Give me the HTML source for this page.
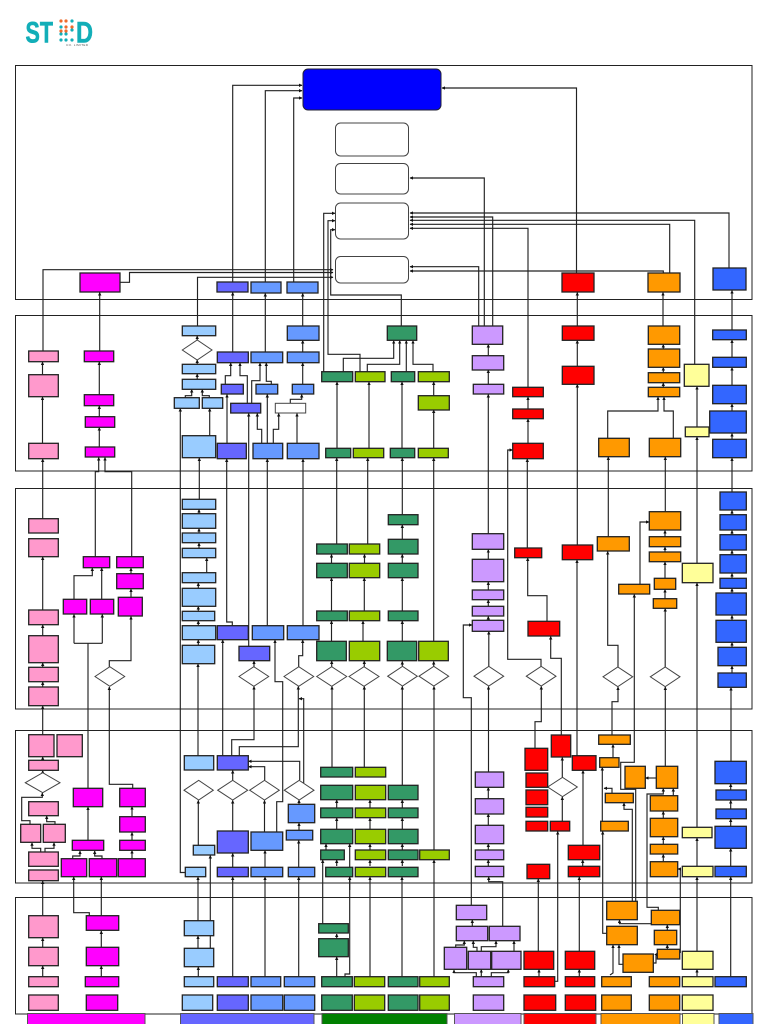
<!DOCTYPE html>
<html><head><meta charset="utf-8"><title>Flow diagram</title>
<style>html,body{margin:0;padding:0;background:#fff}svg{display:block}</style></head>
<body>
<svg xmlns="http://www.w3.org/2000/svg" width="768" height="1024" viewBox="0 0 768 1024">
<defs><marker id="a" markerUnits="userSpaceOnUse" markerWidth="3.4" markerHeight="3.4" refX="3" refY="1.7" orient="auto"><path d="M0 0L3.4 1.7L0 3.4z" fill="#111"/></marker></defs>
<rect width="768" height="1024" fill="#fff"/>
<!-- logo -->
<g font-family="'Liberation Sans',sans-serif" font-weight="bold" fill="#12aeb8" stroke="#12aeb8" stroke-width=".6" font-size="30">
<text x="25.5" y="42.5" textLength="27.5" lengthAdjust="spacingAndGlyphs">ST</text>
<text x="76" y="42.5" textLength="17" lengthAdjust="spacingAndGlyphs">D</text></g>
<g fill="#12aeb8"><circle cx="61" cy="27" r="1.6"/><circle cx="61" cy="40" r="1.6"/><circle cx="66" cy="40" r="1.6"/><circle cx="72" cy="40" r="1.6"/><circle cx="72" cy="21" r="1.6"/><circle cx="72" cy="30" r="1.6"/><circle cx="61" cy="34" r="1.6"/><circle cx="66" cy="34" r="1.6"/></g>
<g fill="#ee6b2c"><circle cx="61" cy="21" r="1.6"/><circle cx="66" cy="21" r="1.6"/><circle cx="66" cy="27" r="1.6"/><circle cx="61" cy="31" r="1.6"/><circle cx="66" cy="31" r="1.6"/><circle cx="72" cy="27" r="1.6"/></g>
<text x="66" y="46" font-family="'Liberation Sans',sans-serif" font-size="3" fill="#555" textLength="22">CO. LIMITED</text>
<!-- panels -->
<g fill="none" stroke="#222" stroke-width="1">
<rect x="15.5" y="65.5" width="736.5" height="234"/>
<rect x="15.5" y="315.5" width="736.5" height="155.5"/>
<rect x="15.5" y="488.5" width="736.5" height="220.5"/>
<rect x="15.5" y="730.5" width="736.5" height="152.5"/>
<rect x="15.5" y="897.5" width="736.5" height="116.5"/>
</g>
<!-- arrows -->
<g fill="none" stroke="#222" stroke-width="1.15" marker-end="url(#a)">
<path d="M43 351V269.7H333"/><path d="M120 282.3H129.5V272.5H333"/><path d="M197.5 326V277.3H333"/>
<path d="M99.7 351V292.5"/><path d="M232.7 282V85.3H302"/><path d="M232.7 352V292.5"/><path d="M265.3 282V90.7H302"/><path d="M265.3 352V293.5"/><path d="M293.7 282V98H302"/><path d="M302.7 326V293.5"/>
<path d="M323.7 372V213.3H335"/><path d="M360 371.7V354.3H328V220.7H335"/><path d="M401.3 326V295H330.7V229.7H335"/>
<path d="M576.5 273V88H442"/><path d="M484.3 326V178H410"/><path d="M492.7 326V217H410"/><path d="M478.7 326V266.7H410"/><path d="M528 387V228.3H410"/><path d="M669.7 273V224.3H410"/><path d="M694.7 364V220.3H410"/><path d="M729 268V213H410"/><path d="M663.3 273V271H410"/>
<path d="M577.3 326V292.5"/><path d="M663 326V292.5"/><path d="M732 330V290.5"/>
<!-- panel 2 left -->
<path d="M42.5 375V362"/><path d="M42.5 443V397"/><path d="M42.7 518.7V459"/><path d="M99.3 394.7V362"/><path d="M99.3 416.7V406"/><path d="M99.3 447V427.5"/>
<path d="M95.3 556.7V471.7H98.7V457.5"/><path d="M131.7 556.7V471.7H105V457.5"/>
<path d="M197.2 340V336"/><path d="M197.2 364V360"/><path d="M197.2 379V374"/>
<path d="M185.3 397.7V395.7H191.7V389.5"/><path d="M209.3 397.7V395.7H202.3V389.5"/><path d="M185.3 872.5H180.3V408.5"/><path d="M209.7 435.7V408.5"/><path d="M199.3 499.3V458"/>
<path d="M199 513.7V509.5"/><path d="M199 533V528.5"/><path d="M199 548V543"/><path d="M206.7 572.7V558"/><path d="M198.3 588V583"/><path d="M198.3 611V606.5"/><path d="M198.3 625.7V621"/><path d="M198.3 645V640"/><path d="M198 755.7V664"/>
<path d="M198.3 845.3V800.5"/><path d="M198 920.7V877"/><path d="M210.3 948V855.5"/><path d="M198 948V936"/><path d="M198.3 976.7V967"/>
<path d="M232.7 976.7V877"/><path d="M232.7 867V853.5"/><path d="M232.7 831V800.5"/><path d="M232.7 780V770.5"/>
<path d="M265 976.7V877"/><path d="M265 867V850.5"/><path d="M264.5 832V800.5"/><path d="M264.7 780V766.7H248.5"/><path d="M299.7 780V761.3H248.5"/>
<path d="M231.7 755.7V739.7H254V686.5"/><path d="M239.3 755.7V746.7H298.3V686.5"/><path d="M276.7 832V801.7H282.7V681.7H275V640"/><path d="M303.7 783V698.7H299"/>
<path d="M298.7 666.7V655.7H302.7V640"/><path d="M254 666.7V661"/><path d="M248.7 646V413.5"/><path d="M222.7 755.7V640"/><path d="M232.3 625.7V622H226.7V459"/><path d="M267.3 625.7V459"/><path d="M303 625.7V459"/>
<path d="M227 443V394.5"/><path d="M267.3 443.3V394.5"/><path d="M261.7 443.3V429.3H257.3V413.5"/><path d="M273.3 443.3V429.3H278.7V413.5"/><path d="M297 443.3V413.5"/><path d="M290.3 403.3V399.3H301.7V394.5"/><path d="M302.7 384V363"/><path d="M302.7 352V340.5"/>
<path d="M247.3 403.3V375.7H240V363"/><path d="M225.3 384V375.7H230.7V363"/><path d="M251.7 403.3V380.7H260V363"/><path d="M271.3 384.3V381.3H266.3V363"/>
<path d="M337 448V382"/><path d="M369 448V382"/><path d="M336.7 544V458"/><path d="M367.7 544V458"/>
<path d="M343.3 371.7V358.3H393.7V340.7"/><path d="M367.3 371.7V364.3H399.7V340.7"/><path d="M406.3 371.7V340.7"/><path d="M433 371.7V364.3H413V340.7"/>
<path d="M402 448V382"/><path d="M433.7 395.7V382"/><path d="M433.7 448V410"/><path d="M402.3 514.7V458"/><path d="M433.7 641.3V458"/>
<path d="M488.3 355.7V344.5"/><path d="M488.3 384V370"/><path d="M488.3 533.7V394.5"/><path d="M577.3 366V340.5"/><path d="M577.3 545V384.5"/><path d="M528 409V397"/><path d="M528 443V419"/><path d="M527.3 548V459"/>
<path d="M541 666.7V659.3H507.7V450H512.5"/><path d="M547 621.3V595.7H527.7V558"/><path d="M561.3 735V658.3H550.7V636.5"/><path d="M577 755.7V560"/>
<path d="M562.3 777.3V757.5"/><path d="M583 845.3V770.5"/><path d="M562.3 821.3V797"/><path d="M554.7 981.3H557.7V831.5"/><path d="M538.3 951.3V879"/><path d="M539 976.7V969.5"/><path d="M579.3 951.3V877"/><path d="M579.3 976.7V969.5"/><path d="M582.7 866.3V860"/><path d="M535 748.3V721.7H541.3V686.5"/>
<!-- orange -->
<path d="M663.3 349V344.5"/><path d="M663.3 372.7V367.5"/><path d="M663.3 387.3V383"/><path d="M607.7 438.3V411H658V397"/><path d="M673.3 438.3V411H664V397"/><path d="M608.3 536.7V457"/><path d="M665.3 511.7V457"/><path d="M640 584.3V522H649"/>
<path d="M665 536.7V530.5"/><path d="M665 552V547"/><path d="M665 578.3V562"/><path d="M665 598.7V589.5"/><path d="M665.2 667V608.5"/><path d="M618 667V645.3H607.7V551.5"/><path d="M612 735V701.7H618V687"/><path d="M665.3 766.3V687"/>
<path d="M635.7 901V789.3H620.7V762.3H634.3V594.5"/><path d="M613 757.7V744.5"/><path d="M602.3 821.3V767.5"/><path d="M612 793.3V788.3H604"/><path d="M606.7 933.3H602.7V831.5"/><path d="M632.3 901.3V809.3H624V803"/>
<path d="M658.3 910.3V907.3H647V794H663.3V788.5"/><path d="M673.3 795.7V788.5"/><path d="M656 778H645.5"/><path d="M663.3 818V811.5"/><path d="M663.3 844.3V837"/><path d="M663.3 861.7V854.5"/><path d="M680.3 953V869H678"/><path d="M651.3 923.7H619.5V920"/><path d="M667.3 930.3V925"/><path d="M667.3 949.3V945"/><path d="M610 975L613 973V945"/><path d="M623 964.3H619V945"/><path d="M653.3 963H656V955L657.3 953"/>
<!-- yellow -->
<path d="M697 866.3V838"/><path d="M697 951.3V877"/><path d="M697 976.7V969.5"/><path d="M697 427V386.5"/><path d="M697 827.3V583"/><path d="M697 563.3V437"/>
<!-- blue -->
<path d="M732 357V340"/><path d="M732 385V367.5"/><path d="M732 411V404"/><path d="M732 439V433.5"/><path d="M732 492V458"/><path d="M732 514.7V510.5"/><path d="M732 534.7V530.5"/><path d="M732 554.7V550.5"/><path d="M732 578V573.5"/><path d="M732 593V588.5"/><path d="M732 620V615.5"/><path d="M732 647V642.5"/><path d="M732 673V666"/><path d="M731 761V687.5"/>
<path d="M730.7 790V784"/><path d="M730.7 809V800.5"/><path d="M730.7 826V819"/><path d="M730.7 866V848.5"/><path d="M730.7 976.7V877"/>
<!-- pink lower -->
<path d="M42.7 610V557"/><path d="M42.7 635.7V625"/><path d="M42.7 667V663"/><path d="M42.7 687V682"/><path d="M42.7 734.7V706"/><path d="M42.7 760V757"/><path d="M42.7 772.7V770.5"/>
<path d="M30 824V820.7H21.7V797.3H42.3V793"/><path d="M55 824.3V821.7H46.7V816"/><path d="M40.7 852V848.3H32V842.8"/><path d="M45 852V848.3H54V842.8"/><path d="M42.7 915.7V881"/><path d="M42.7 947V938"/><path d="M42.7 976.7V966"/>
<!-- magenta lower -->
<path d="M88 840V807"/><path d="M74 643.3V614.5"/><path d="M102.3 643.3V614.5"/><path d="M74 599.3V575.7H92.3V568"/><path d="M101.7 599.3V568"/><path d="M131 573.7V568"/><path d="M131 597.3V589"/><path d="M109.3 666.7V660.7H131V616.5"/><path d="M132.7 788.3V784.3H109.3V687"/>
<path d="M132 816.7V806.7"/><path d="M132 840V832.5"/><path d="M132 858.7V850.5"/><path d="M72.7 858.7V856H80V851"/><path d="M102 858.7V856H94.7V851"/><path d="M89.3 915.7V912.7H73.7V877"/><path d="M101.3 915.7V877"/><path d="M101.3 947V931"/><path d="M101.3 976.7V966"/>
<!-- green / lime -->
<path d="M331.7 666.7V661"/><path d="M332 767.3V686.5"/><path d="M364.3 666.7V661"/><path d="M364.3 767V686.5"/><path d="M331.5 641V621"/><path d="M331.5 611V578"/><path d="M331.5 563V554.5"/><path d="M363 641V621"/><path d="M364.3 611V578"/><path d="M364.5 563V554.5"/>
<path d="M402.3 539.3V525"/><path d="M402.3 563V554.5"/><path d="M402.3 611V578"/><path d="M402.3 641V621"/><path d="M402.3 666V661.5"/><path d="M402.3 785V686.5"/><path d="M433.7 666.7V661.5"/><path d="M434 850V686.5"/>
<path d="M402.3 866V860"/><path d="M402.3 850V844"/><path d="M402.3 829V818"/><path d="M402.3 808V800"/><path d="M336.7 808V800"/><path d="M336.7 829V818"/><path d="M370 808V800"/><path d="M370 829V818"/><path d="M370 850V844"/><path d="M370 866V860"/>
<path d="M326 850V844"/><path d="M345 976.7V974H349.7V844"/><path d="M349.7 890V877"/><path d="M336.7 938.7V934"/><path d="M336.7 976.7V957"/><path d="M322.7 923.7V860"/><path d="M370 976.7V877"/><path d="M402 976.7V877"/><path d="M434 976.7V860"/><path d="M336.7 866V860"/>
<!-- purple -->
<path d="M488.8 666.3V631.5"/><path d="M488.3 620V616.5"/><path d="M488.3 606V600"/><path d="M488.3 590V582"/><path d="M488.3 559V549.7"/><path d="M488.5 772V686.5"/><path d="M488.3 798.7V787.5"/><path d="M488.3 825V814"/><path d="M488.3 850V844"/><path d="M488.3 866V860"/>
<path d="M502.7 926.3V881.7H488.7V877"/><path d="M471.3 905.3V697.7H463.3V625H472"/><path d="M472.3 926.3V920"/><path d="M455.7 947.3V945H464.3V941"/><path d="M477 951.3V947.3H473.3V941"/><path d="M481.3 951.3V946.7H496V941"/><path d="M514 951.3V941"/><path d="M481.3 976.7V969.7"/><path d="M476.3 976.7V972.7H454V970"/><path d="M491.3 976.7V972.7H508.3V969.7"/>
<path d="M298.7 867V840.5"/><path d="M299 830V823"/><path d="M299 804.3V800"/><path d="M298.7 976.7V877"/>
</g>
<path d="M88 788.3V643.3M74 643.3H102.3" fill="none" stroke="#222" stroke-width="1.15"/>
<!-- white boxes / diamonds -->
<g fill="#fff" stroke="#444" stroke-width="1">
<rect x="335.5" y="123" width="73" height="33" rx="5"/><rect x="335.5" y="163.5" width="73" height="30.5" rx="5"/><rect x="335.5" y="203" width="73" height="36" rx="5"/><rect x="335.5" y="256.5" width="73" height="26.5" rx="5"/>
<path d="M182.3 350L197.2 340L212 350L197.2 360z"/>
<path d="M95 676.5L109.8 666.7L124.7 676.5L109.8 686.3z"/><path d="M239 676.5L253.8 666.7L268.7 676.5L253.8 686.3z"/><path d="M284 676.5L298.8 666.7L313.7 676.5L298.8 686.3z"/><path d="M316.7 676.5L331.7 666.7L346.7 676.5L331.7 686.3z"/><path d="M349 676.5L364 666.7L379 676.5L364 686.3z"/>
<path d="M387.7 676.2L402.5 666.3L417.3 676.2L402.5 686z"/><path d="M419 676.2L433.8 666.3L448.7 676.2L433.8 686z"/><path d="M474 676.2L488.8 666.3L503.7 676.2L488.8 686z"/><path d="M526.3 676.2L541.2 666.3L556 676.2L541.2 686z"/><path d="M603 676.8L617.8 667L632.7 676.8L617.8 686.7z"/><path d="M650.3 676.8L665.2 667L680 676.8L665.2 686.7z"/>
<path d="M25.3 782.7L42.7 772.7L60 782.7L42.7 792.7z"/><path d="M184 790.2L198.7 780.3L213.3 790.2L198.7 800z"/><path d="M217.7 790.2L232.7 780.3L247.7 790.2L232.7 800z"/><path d="M249.7 790.2L264.5 780.3L279.3 790.2L264.5 800z"/><path d="M284.3 790.2L299.2 780.3L314 790.2L299.2 800z"/><path d="M547.7 787L562.5 777.3L577.3 787L562.5 796.7z"/>
<rect x="275.3" y="403.3" width="30.4" height="9.7"/>
</g>
<g stroke="#222" stroke-width="1.3">
<rect x="303" y="69" width="138" height="41" rx="5" fill="#00f" stroke="#223" stroke-width="1"/>
<g fill="#ff99cc">
<rect x="28.7" y="351" width="29.6" height="10.7"/><rect x="28.7" y="374.7" width="29.6" height="22"/><rect x="28.7" y="443.3" width="29.6" height="15.4"/><rect x="28.7" y="518.7" width="29.6" height="14.3"/><rect x="28.7" y="538.7" width="29.6" height="18"/><rect x="28.7" y="610" width="29.6" height="14.7"/><rect x="28.7" y="635.7" width="29.6" height="27"/><rect x="28.7" y="667.3" width="29.6" height="14.4"/><rect x="28.7" y="687" width="29.6" height="18.7"/>
<rect x="28.7" y="734.7" width="25.3" height="22"/><rect x="57" y="734.7" width="25.3" height="22"/><rect x="28.7" y="760.3" width="29.6" height="10"/><rect x="28.7" y="801.7" width="29.6" height="14"/><rect x="20.7" y="824.3" width="20" height="18"/><rect x="43.3" y="824.3" width="22" height="18"/><rect x="28.7" y="852" width="29.6" height="14.3"/><rect x="28.7" y="870" width="29.6" height="10.7"/>
<rect x="28.7" y="915.7" width="29.6" height="22"/><rect x="28.7" y="947.3" width="29.6" height="18.4"/><rect x="28.7" y="976.7" width="29.6" height="10"/><rect x="28.7" y="995" width="29.6" height="15.3"/></g>
<g fill="#f0f">
<rect x="80" y="273" width="40" height="19"/><rect x="84.3" y="351" width="29.4" height="10.7"/><rect x="84.3" y="394.7" width="29.4" height="11"/><rect x="85.3" y="416.7" width="29.4" height="10.6"/><rect x="85.3" y="447" width="29.4" height="10"/>
<rect x="83.3" y="556.7" width="26.4" height="11"/><rect x="116.7" y="556.7" width="26.6" height="11"/><rect x="116.7" y="573.7" width="26.6" height="15"/><rect x="63.3" y="599.3" width="23.4" height="14.7"/><rect x="90.3" y="599.3" width="23.4" height="14.7"/><rect x="118.3" y="597.3" width="24" height="18.7"/>
<rect x="73.3" y="788.3" width="29.4" height="18.4"/><rect x="119.7" y="788.3" width="25.6" height="18.4"/><rect x="119.7" y="816.7" width="25.6" height="15.3"/><rect x="72.3" y="840.3" width="31.4" height="10"/><rect x="119.7" y="840.3" width="25.6" height="10"/><rect x="61.3" y="858.7" width="25.4" height="18"/><rect x="89.3" y="858.7" width="27.4" height="18"/><rect x="118.3" y="858.7" width="27" height="18"/>
<rect x="86.3" y="915.7" width="32.4" height="14.6"/><rect x="86.3" y="947.3" width="32.4" height="18.4"/><rect x="85.3" y="976.7" width="33.4" height="10"/><rect x="86.3" y="995" width="31.4" height="15.3"/></g>
<g fill="#9cf">
<rect x="182.3" y="326" width="33.4" height="9.7"/><rect x="182.3" y="364.3" width="33.4" height="9.4"/><rect x="182.3" y="379.3" width="33.4" height="10"/><rect x="174.3" y="397.7" width="25" height="10.6"/><rect x="202.3" y="397.7" width="20.4" height="10.6"/><rect x="182.3" y="435.7" width="33.4" height="22"/>
<rect x="182.3" y="499.3" width="33.4" height="10"/><rect x="182.3" y="513.7" width="33.4" height="14.6"/><rect x="182.3" y="533" width="33.4" height="9.7"/><rect x="182.3" y="548.3" width="33.4" height="9.4"/><rect x="182.3" y="572.7" width="33.4" height="10"/><rect x="182.3" y="588.3" width="33.4" height="18"/><rect x="182.3" y="611.3" width="32.4" height="9.4"/><rect x="182.3" y="625.7" width="33.4" height="14"/><rect x="182.3" y="645.3" width="32.4" height="18.4"/>
<rect x="184.3" y="755.7" width="29.4" height="14.3"/><rect x="193.3" y="845.3" width="21.4" height="9.7"/><rect x="185.3" y="867.3" width="20.4" height="9.4"/><rect x="184.3" y="920.7" width="29.4" height="15"/><rect x="184.3" y="948.3" width="29.4" height="18.4"/><rect x="184.3" y="976.7" width="29.4" height="10"/><rect x="182.3" y="995" width="30.4" height="15.3"/></g>
<g fill="#66f">
<rect x="217" y="282" width="31" height="10"/><rect x="217.3" y="352" width="31" height="10.7"/><rect x="221.3" y="384.3" width="22" height="9.7"/><rect x="230.7" y="403.3" width="30" height="9.7"/><rect x="217.3" y="443.3" width="29" height="15.4"/><rect x="217.3" y="625.7" width="31" height="14"/><rect x="239" y="646.3" width="30.7" height="14.4"/><rect x="217.3" y="755.7" width="31" height="14.3"/><rect x="217.3" y="831" width="31" height="22"/><rect x="217.3" y="867.3" width="31" height="9.4"/><rect x="217.3" y="976.7" width="31" height="10"/><rect x="217.3" y="995" width="31" height="15.3"/></g>
<g fill="#69f">
<rect x="251" y="282" width="30" height="11"/><rect x="287" y="282" width="31" height="11"/><rect x="287.3" y="326" width="31.7" height="14.3"/><rect x="251" y="352" width="31.7" height="10.7"/><rect x="287.3" y="352" width="31.7" height="10.7"/><rect x="256" y="384.3" width="21.7" height="9.7"/><rect x="292.3" y="384.3" width="21.4" height="9.7"/><rect x="253" y="443.3" width="29.7" height="15.4"/><rect x="287.3" y="443.3" width="31.7" height="15.4"/><rect x="252.3" y="625.7" width="31.4" height="14"/><rect x="287.3" y="625.7" width="31.7" height="14"/>
<rect x="251" y="832" width="31.7" height="18.3"/><rect x="288.3" y="804.3" width="26.4" height="18.4"/><rect x="286.3" y="830.3" width="26.4" height="9.7"/><rect x="251" y="867.3" width="31.7" height="9.4"/><rect x="288.3" y="867.3" width="26.4" height="9.4"/><rect x="251" y="976.7" width="29.7" height="10"/><rect x="284.3" y="976.7" width="30.4" height="10"/><rect x="251" y="995" width="31.7" height="15.3"/><rect x="284.3" y="995" width="30.4" height="15.3"/></g>
<g fill="#396">
<rect x="387.3" y="326" width="29.4" height="14.3"/><rect x="321.7" y="371.7" width="31" height="10"/><rect x="391.3" y="371.7" width="23.4" height="10"/><rect x="325.7" y="448.3" width="25" height="9.4"/><rect x="390.3" y="448.3" width="24.4" height="9.4"/>
<rect x="316.7" y="544" width="30.6" height="10"/><rect x="316.7" y="563.3" width="30.6" height="14.4"/><rect x="316.7" y="611" width="30.6" height="9.7"/><rect x="316.7" y="641.3" width="29.6" height="19.4"/><rect x="388.3" y="514.7" width="29.7" height="10"/><rect x="388.3" y="539.3" width="29.7" height="14.7"/><rect x="388.3" y="563.3" width="29.7" height="14.4"/><rect x="388.3" y="611" width="29.7" height="9.7"/><rect x="387.3" y="641.3" width="29.4" height="19.4"/>
<rect x="320.7" y="767.3" width="32" height="9.7"/><rect x="320.7" y="785.3" width="32" height="14.4"/><rect x="320.7" y="808" width="32" height="9.7"/><rect x="320.7" y="829.3" width="32" height="14.4"/><rect x="320.7" y="850" width="23.6" height="9.7"/><rect x="325.7" y="867.3" width="27" height="9.4"/>
<rect x="388.3" y="785.3" width="29.7" height="14.4"/><rect x="388.3" y="808" width="29.7" height="9.7"/><rect x="388.3" y="829.3" width="29.7" height="14.4"/><rect x="388.3" y="850" width="29.7" height="9.7"/><rect x="388.3" y="867.3" width="29.7" height="9.4"/>
<rect x="318.7" y="923.7" width="29.6" height="9.3"/><rect x="318.7" y="938.7" width="29.6" height="18"/><rect x="321.7" y="976.7" width="30.6" height="10"/><rect x="321.7" y="995" width="30.6" height="15.3"/><rect x="388.3" y="976.7" width="29.7" height="10"/><rect x="388.3" y="995" width="29.7" height="15.3"/></g>
<g fill="#9c0">
<rect x="355.3" y="371.7" width="29.7" height="10"/><rect x="353.3" y="448.3" width="30.4" height="9.4"/><rect x="418.3" y="371.7" width="31" height="10"/><rect x="418.3" y="395.7" width="31" height="14.3"/><rect x="418.3" y="448.3" width="30" height="9.4"/>
<rect x="349.3" y="544" width="30.4" height="10"/><rect x="349.3" y="563.3" width="30.4" height="14.4"/><rect x="349.3" y="611" width="30.4" height="9.7"/><rect x="349.3" y="641.3" width="30.4" height="19.4"/><rect x="418.7" y="641.3" width="29.6" height="19.4"/>
<rect x="355.3" y="767.3" width="30.4" height="9.7"/><rect x="355.3" y="785.3" width="30.4" height="14.4"/><rect x="355.3" y="808" width="30.4" height="9.7"/><rect x="355.3" y="829.3" width="30.4" height="14.4"/><rect x="355.3" y="850" width="30.4" height="9.7"/><rect x="355.3" y="867.3" width="30.4" height="9.4"/><rect x="419.7" y="850" width="29.6" height="9.7"/>
<rect x="354.3" y="976.7" width="30.4" height="10"/><rect x="354.3" y="995" width="30.4" height="15.3"/><rect x="419.7" y="976.7" width="29.6" height="10"/><rect x="419.7" y="995" width="29.6" height="15.3"/></g>
<g fill="#c9f">
<rect x="472.3" y="326" width="30.4" height="18.3"/><rect x="472.3" y="355.7" width="31.4" height="14.3"/><rect x="473.3" y="384.3" width="30.4" height="9.7"/><rect x="472.3" y="533.7" width="31.4" height="15.6"/><rect x="472.3" y="559.3" width="31.4" height="22.4"/><rect x="472.3" y="590" width="31.4" height="9.7"/><rect x="472.3" y="606.3" width="31.4" height="9.7"/><rect x="472.3" y="620.3" width="31.4" height="11"/>
<rect x="475.3" y="772" width="28.4" height="15.3"/><rect x="475.3" y="798.7" width="28.4" height="15.3"/><rect x="475.3" y="825.3" width="28.4" height="18.4"/><rect x="475.3" y="850" width="28.4" height="9.7"/><rect x="475.3" y="866.3" width="28.4" height="10.4"/>
<rect x="456.3" y="905.3" width="30.4" height="14.4"/><rect x="456.3" y="926.3" width="31.4" height="14.4"/><rect x="489.3" y="926.3" width="30.7" height="14.4"/><rect x="444.3" y="947.3" width="22.4" height="22"/><rect x="468.3" y="951.3" width="22.4" height="18"/><rect x="491.7" y="951.3" width="29.3" height="18"/><rect x="473.3" y="976.7" width="30.4" height="10"/><rect x="473.3" y="995" width="30.4" height="15.3"/></g>
<g fill="#f00">
<rect x="562" y="273" width="32" height="19"/><rect x="562.3" y="326" width="31.7" height="14.3"/><rect x="562.3" y="366.3" width="31.7" height="18"/><rect x="512.7" y="387.3" width="30.6" height="9.4"/><rect x="512.7" y="409" width="30.6" height="9.7"/><rect x="512.7" y="443.3" width="30.6" height="15.4"/><rect x="514.7" y="548" width="27" height="9.7"/><rect x="562.3" y="545" width="30.4" height="14.7"/><rect x="528" y="621.3" width="31.7" height="14.7"/>
<rect x="525" y="748.3" width="22.7" height="22"/><rect x="526" y="773" width="21.7" height="14.3"/><rect x="526" y="790" width="21.7" height="14.7"/><rect x="526" y="807.3" width="21.7" height="9.7"/><rect x="526" y="821.3" width="21.7" height="9.7"/><rect x="550.3" y="821.3" width="19.4" height="9.7"/><rect x="551.3" y="735" width="19.4" height="22"/><rect x="572.3" y="755.7" width="23.7" height="14.6"/><rect x="568.3" y="845.3" width="31.4" height="14.4"/><rect x="568.3" y="866.3" width="31.4" height="10.4"/><rect x="527" y="864.3" width="22.7" height="14.4"/>
<rect x="524" y="951.3" width="29.7" height="18"/><rect x="565.3" y="951.3" width="29.4" height="18"/><rect x="524" y="976.7" width="30.7" height="10"/><rect x="565.3" y="976.7" width="29.4" height="10"/><rect x="524" y="995" width="31.7" height="15.3"/><rect x="565.3" y="995" width="30.4" height="15.3"/></g>
<g fill="#f90">
<rect x="648" y="273" width="32" height="19"/><rect x="648.3" y="326" width="31.4" height="18.3"/><rect x="648.3" y="349" width="31.4" height="18.3"/><rect x="648.3" y="372.7" width="31.4" height="10"/><rect x="648.3" y="387.3" width="31.4" height="9.4"/><rect x="598.7" y="438.3" width="30.6" height="18.4"/><rect x="649.3" y="438.3" width="31.4" height="18.4"/>
<rect x="597.3" y="536.7" width="32" height="14.3"/><rect x="649.3" y="511.7" width="31.4" height="18.3"/><rect x="649.3" y="536.7" width="31.4" height="10"/><rect x="649.3" y="552" width="31.4" height="9.7"/><rect x="618.7" y="584.3" width="31" height="9.7"/><rect x="654.3" y="578.3" width="21.4" height="11"/><rect x="653.3" y="598.7" width="23.4" height="9.6"/>
<rect x="598.7" y="735" width="31.6" height="9.3"/><rect x="599.7" y="757.7" width="19.3" height="9.6"/><rect x="625" y="766.3" width="20.3" height="22"/><rect x="656.3" y="766.3" width="21.4" height="22"/><rect x="605.3" y="793.3" width="28" height="9.4"/><rect x="650.3" y="795.7" width="27.4" height="15.3"/><rect x="650.3" y="818.3" width="27.4" height="18.4"/><rect x="650.3" y="844.3" width="27.4" height="9.7"/><rect x="650.3" y="861.7" width="27.4" height="15"/><rect x="600.7" y="821.3" width="27.6" height="9.7"/>
<rect x="606.7" y="901.3" width="30.6" height="18.4"/><rect x="651.3" y="910.3" width="28.4" height="14.4"/><rect x="606.7" y="926.3" width="30.6" height="18.4"/><rect x="654.3" y="930.3" width="22.4" height="14.4"/><rect x="657.3" y="949.3" width="22.4" height="9.7"/><rect x="623" y="954" width="30.3" height="18.3"/><rect x="601.7" y="976.7" width="29.6" height="10"/><rect x="649.3" y="976.7" width="30.4" height="10"/><rect x="601.7" y="995" width="29.6" height="15.3"/><rect x="649.3" y="995" width="30.4" height="15.3"/></g>
<g fill="#ff9">
<rect x="684.3" y="364.3" width="24.7" height="22"/><rect x="685.3" y="427" width="23.7" height="9.7"/><rect x="682.3" y="563.3" width="30.7" height="19.4"/><rect x="682.3" y="827.3" width="29.7" height="10.4"/><rect x="682.3" y="866.3" width="30.7" height="10.4"/><rect x="682.3" y="951.3" width="30.7" height="18"/><rect x="682.3" y="976.7" width="30.7" height="10"/><rect x="682.3" y="995" width="30.7" height="15.3"/></g>
<g fill="#36f">
<rect x="713" y="268" width="33" height="22"/><rect x="712.7" y="330" width="33.6" height="9.7"/><rect x="712.7" y="357.3" width="33.6" height="10"/><rect x="712.7" y="385.3" width="33.6" height="18.4"/><rect x="709.7" y="411" width="36.6" height="22"/><rect x="712.7" y="439.3" width="33.6" height="18.4"/>
<rect x="720" y="492" width="26.3" height="18"/><rect x="720" y="514.7" width="26.3" height="15.3"/><rect x="720" y="534.7" width="26.3" height="15.3"/><rect x="720" y="554.7" width="26.3" height="18.3"/><rect x="720" y="578.3" width="26.3" height="10"/><rect x="716" y="593" width="30.3" height="22"/><rect x="716" y="620.3" width="30.3" height="22"/><rect x="718" y="647.3" width="28.3" height="18.4"/><rect x="718" y="673" width="28.3" height="14.3"/>
<rect x="715" y="761.3" width="31.3" height="22.4"/><rect x="716" y="790" width="30.3" height="10"/><rect x="716" y="809" width="30.3" height="9.7"/><rect x="715" y="826.3" width="31.3" height="22"/><rect x="715" y="866.3" width="31.3" height="10.4"/><rect x="715" y="976.7" width="31.3" height="10"/></g>
</g>
<!-- legend bars -->
<g stroke="#555" stroke-width="1">
<rect x="27.5" y="1013.5" width="117.5" height="12" fill="#f0f"/><rect x="180.5" y="1013.5" width="133.5" height="12" fill="#66f"/><rect x="322" y="1013.5" width="125" height="12" fill="#008000"/><rect x="454.5" y="1013.5" width="66.5" height="12" fill="#c9f"/><rect x="524" y="1013.5" width="72" height="12" fill="#f00"/><rect x="601" y="1013.5" width="79" height="12" fill="#f90"/><rect x="682.5" y="1013.5" width="31.5" height="12" fill="#ff9"/><rect x="719" y="1013.5" width="34" height="12" fill="#36f"/>
</g>
</svg>
</body></html>
